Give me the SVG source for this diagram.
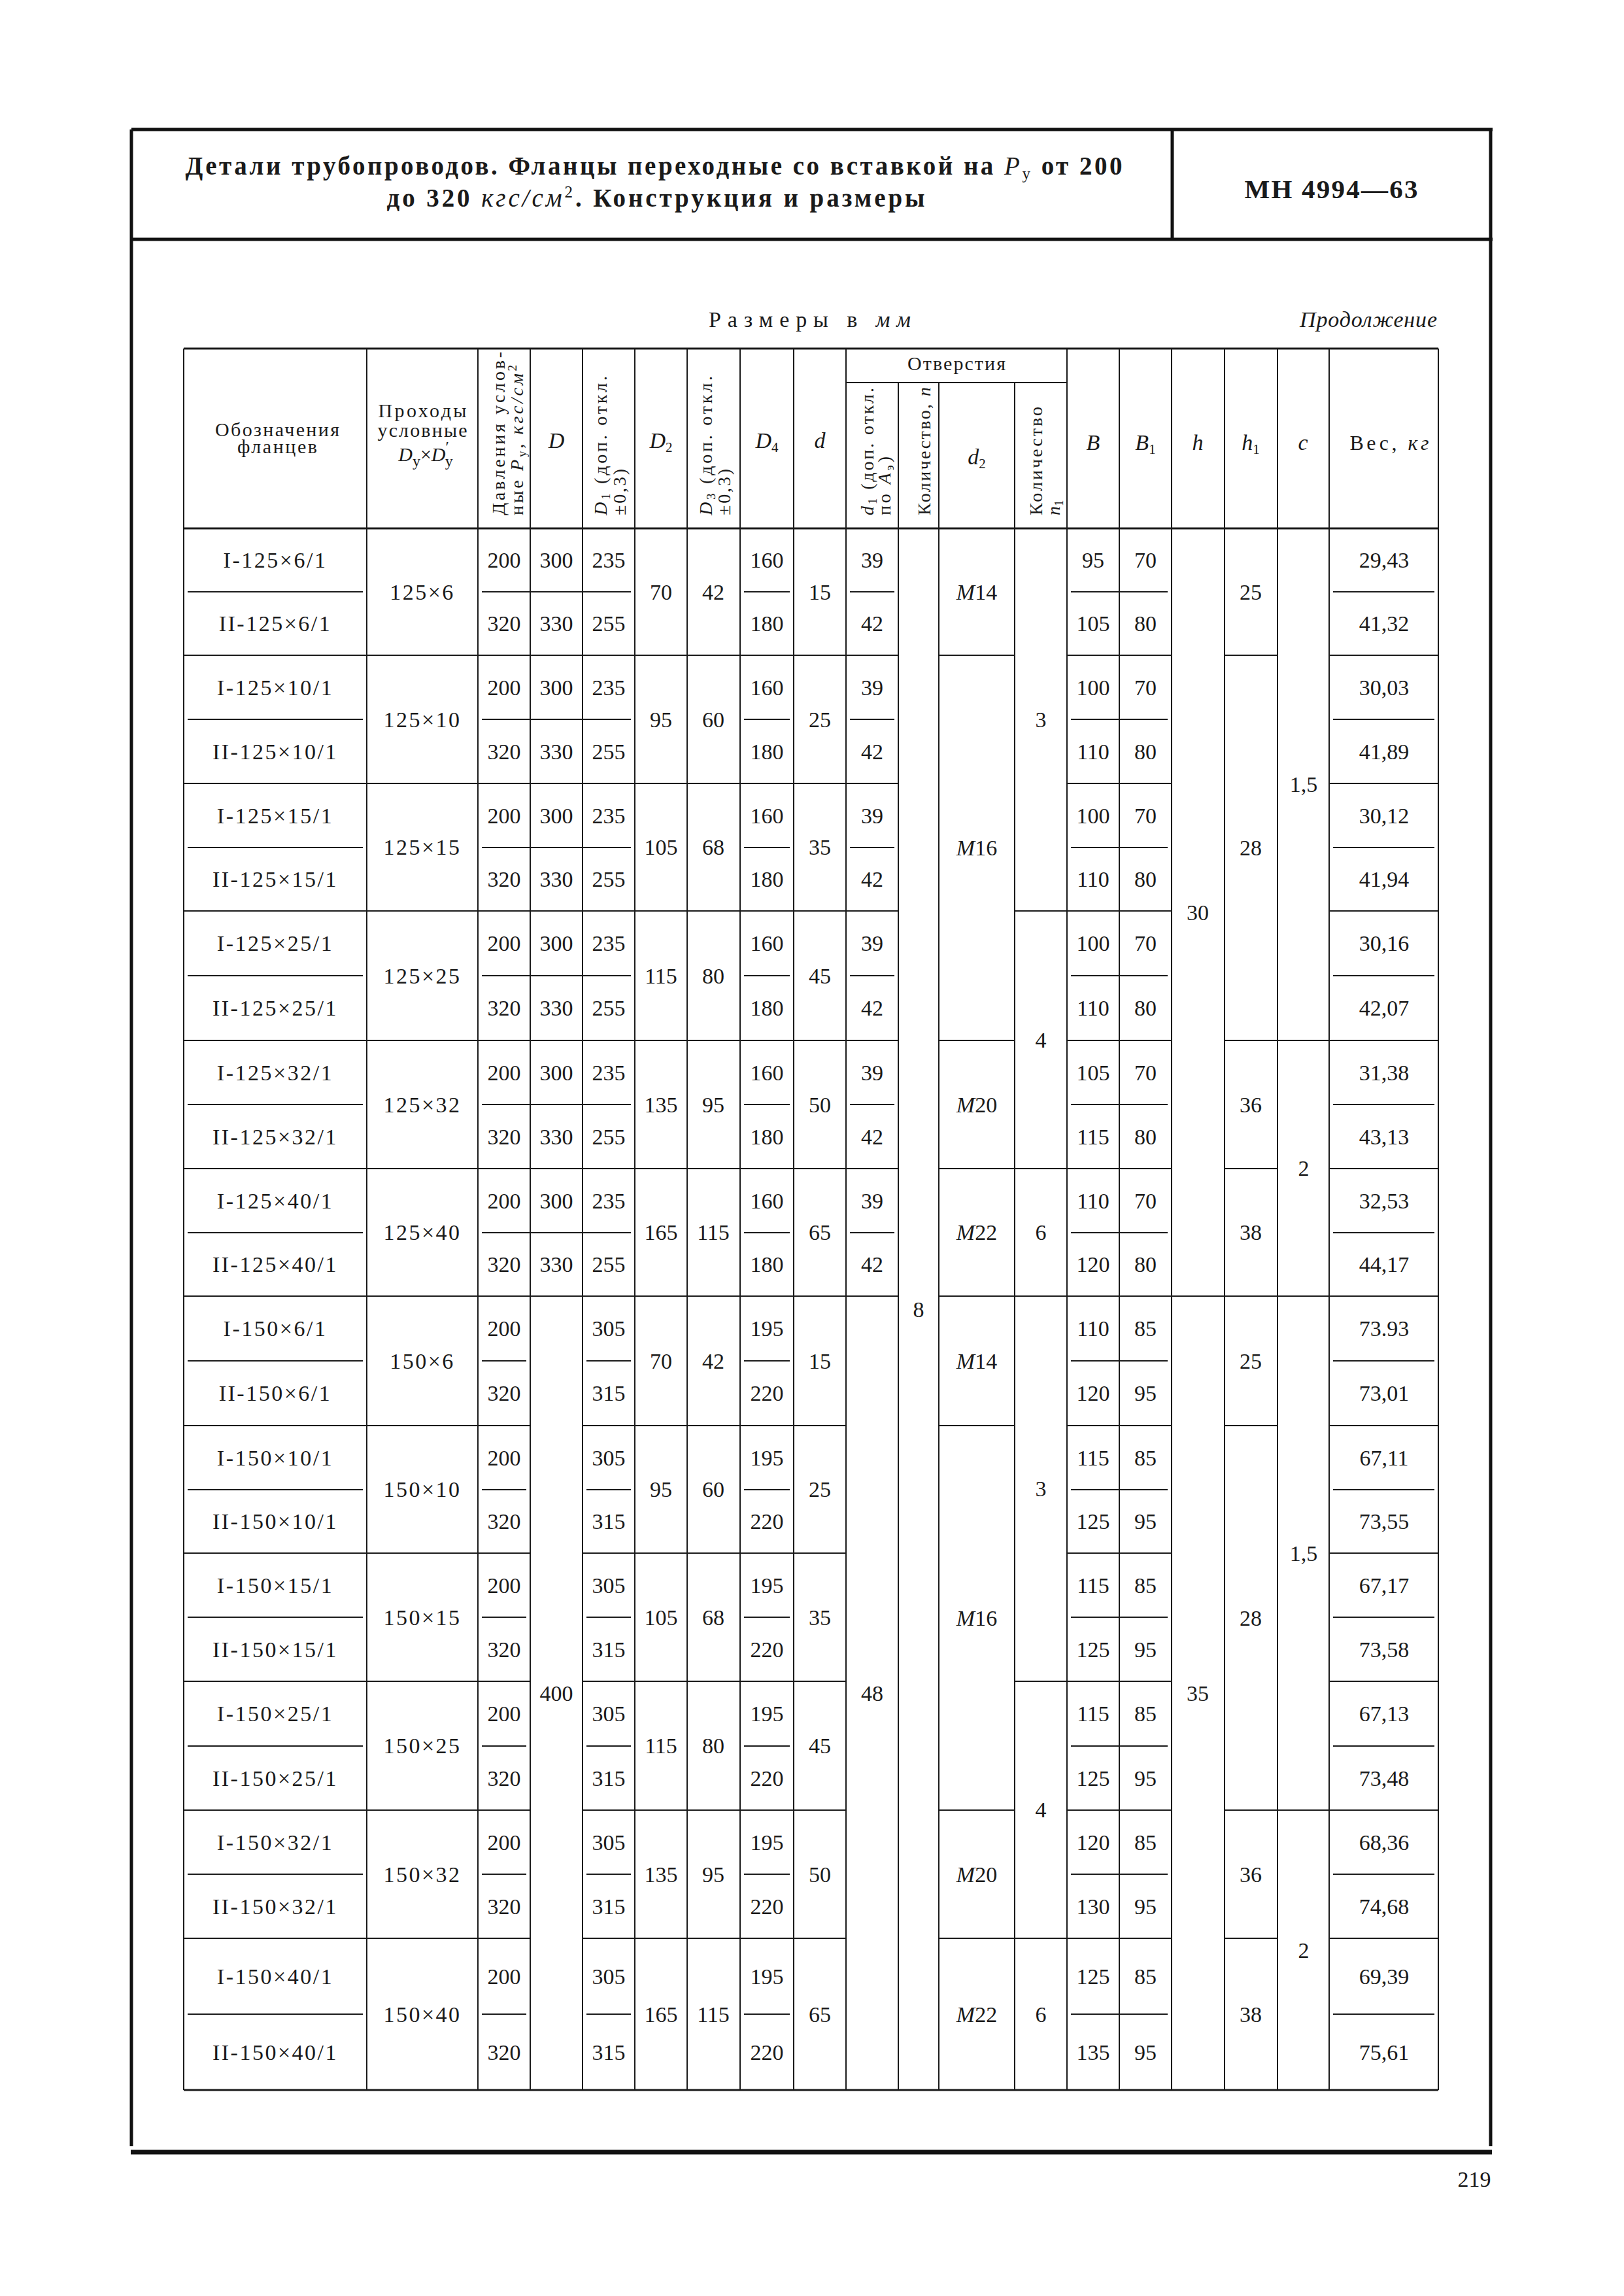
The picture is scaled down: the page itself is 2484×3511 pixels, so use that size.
<svg xmlns="http://www.w3.org/2000/svg" width="2484" height="3511" viewBox="0 0 2484 3511">
<style>
text{font-family:"Liberation Serif","DejaVu Serif",serif;fill:#1a1a1a}
.n{font-size:34px;text-anchor:middle}
.l{font-size:34px;text-anchor:middle;letter-spacing:2.5px}
.h{font-size:30px;text-anchor:middle}
.hl{font-size:34px;text-anchor:middle;font-style:italic}
.r{font-size:28px;text-anchor:start}
.i{font-style:italic}
.ln{stroke:#1a1a1a;stroke-width:2;fill:none}
.tk{stroke:#1a1a1a;stroke-width:3;fill:none}
.fr{stroke:#111;stroke-width:5;fill:none}
</style>
<rect width="2484" height="3511" fill="#fff"/>

<g id="frame">
<path class="fr" d="M201 198H2283 M201 366H2283 M201 198V3282 M2280 198V3282 M1793 198V365"/>
<path stroke="#111" stroke-width="7" fill="none" d="M200 3291H2282"/>
</g>

<g id="title">
<text x="1000" y="267" font-size="39" font-weight="bold" text-anchor="middle" textLength="1433" lengthAdjust="spacing">Детали трубопроводов. Фланцы переходные со вставкой на <tspan font-style="italic" font-weight="normal">P</tspan><tspan font-size="25" font-weight="normal" dy="7">у</tspan><tspan dy="-7"> от 200</tspan></text>
<text x="1003" y="316" font-size="39" font-weight="bold" text-anchor="middle" textLength="823" lengthAdjust="spacing">до 320 <tspan font-style="italic" font-weight="normal">кгс/см</tspan><tspan font-size="25" font-weight="normal" dy="-14">2</tspan><tspan dy="14">. Конструкция и размеры</tspan></text>
<text x="2036" y="303" font-size="41" font-weight="bold" text-anchor="middle" textLength="265" lengthAdjust="spacing">МН 4994—63</text>
</g>

<g id="captions">
<text x="1084" y="500" font-size="34" textLength="309" lengthAdjust="spacing">Размеры в <tspan font-style="italic">мм</tspan></text>
<text x="1988" y="500" font-size="34" font-style="italic" textLength="210" lengthAdjust="spacing">Продолжение</text>
<text x="2255" y="3344" font-size="34" text-anchor="middle">219</text>
</g>

<g id="grid">
<path class="tk" d="M281 533H2200 M281 808H2200 M281 3196H2200"/>
<path class="ln" d="M1294 585H1632"/>
<path class="ln" d="M281 533V3196 M561 533V3196 M731 533V3196 M811 533V3196 M891 533V3196 M971 533V3196 M1051 533V3196 M1132 533V3196 M1214 533V3196 M1294 533V3196 M1632 533V3196 M1712 533V3196 M1792 533V3196 M1873 533V3196 M1954 533V3196 M2033 533V3196 M2200 533V3196 M1374 585V3196 M1436 585V3196 M1552 585V3196"/>
<path class="ln" d="M281 1002H1374 M1436 1002H1552 M1632 1002H1792 M1873 1002H1954 M2033 1002H2200
M281 1198H1374 M1632 1198H1792 M2033 1198H2200
M281 1393H1374 M1552 1393H1792 M2033 1393H2200
M281 1591H1374 M1436 1591H1552 M1632 1591H1792 M1873 1591H2200
M281 1787H1374 M1436 1787H1792 M1873 1787H1954 M2033 1787H2200
M281 1982H1374 M1436 1982H2200
M281 2180H811 M891 2180H1294 M1436 2180H1552 M1632 2180H1792 M1873 2180H1954 M2033 2180H2200
M281 2375H811 M891 2375H1294 M1632 2375H1792 M2033 2375H2200
M281 2571H811 M891 2571H1294 M1552 2571H1792 M2033 2571H2200
M281 2768H811 M891 2768H1294 M1436 2768H1552 M1632 2768H1792 M1873 2768H2200
M281 2964H811 M891 2964H1294 M1436 2964H1792 M1873 2964H1954 M2033 2964H2200"/>
<path class="ln" d="M287 905H555 M737 905H965 M1138 905H1208 M1300 905H1368 M1638 905H1786 M2039 905H2194
M287 1100H555 M737 1100H965 M1138 1100H1208 M1300 1100H1368 M1638 1100H1786 M2039 1100H2194
M287 1296H555 M737 1296H965 M1138 1296H1208 M1300 1296H1368 M1638 1296H1786 M2039 1296H2194
M287 1492H555 M737 1492H965 M1138 1492H1208 M1300 1492H1368 M1638 1492H1786 M2039 1492H2194
M287 1689H555 M737 1689H965 M1138 1689H1208 M1300 1689H1368 M1638 1689H1786 M2039 1689H2194
M287 1885H555 M737 1885H965 M1138 1885H1208 M1300 1885H1368 M1638 1885H1786 M2039 1885H2194
M287 2081H555 M737 2081H805 M897 2081H965 M1138 2081H1208 M1638 2081H1786 M2039 2081H2194
M287 2278H555 M737 2278H805 M897 2278H965 M1138 2278H1208 M1638 2278H1786 M2039 2278H2194
M287 2473H555 M737 2473H805 M897 2473H965 M1138 2473H1208 M1638 2473H1786 M2039 2473H2194
M287 2670H555 M737 2670H805 M897 2670H965 M1138 2670H1208 M1638 2670H1786 M2039 2670H2194
M287 2866H555 M737 2866H805 M897 2866H965 M1138 2866H1208 M1638 2866H1786 M2039 2866H2194
M287 3080H555 M737 3080H805 M897 3080H965 M1138 3080H1208 M1638 3080H1786 M2039 3080H2194"/>
</g>

<g id="table-header">
<text class="h" x="424" y="667" textLength="190" lengthAdjust="spacing">Обозначения</text>
<text class="h" x="424" y="693" textLength="122" lengthAdjust="spacing">фланцев</text>
<text class="h" x="646" y="638" textLength="135" lengthAdjust="spacing">Проходы</text>
<text class="h" x="646" y="668" textLength="137" lengthAdjust="spacing">условные</text>
<text class="h" x="651" y="705" font-size="34"><tspan class="i">D</tspan><tspan font-size="24" dy="8">у</tspan><tspan dy="-8">×</tspan><tspan class="i">D</tspan><tspan font-size="24" dy="-14">′</tspan><tspan font-size="24" dy="22" dx="-6">у</tspan></text>
<text class="r" transform="translate(772,788) rotate(-90)" textLength="250" lengthAdjust="spacing">Давления услов-</text>
<text class="r" transform="translate(800,788) rotate(-90)" textLength="230" lengthAdjust="spacing">ные <tspan class="i">P</tspan><tspan font-size="19" dy="5">у</tspan><tspan dy="-5">, </tspan><tspan class="i">кгс/см</tspan><tspan font-size="19" dy="-10">2</tspan></text>
<text class="hl" x="851" y="685">D</text>
<text class="r" transform="translate(928,788) rotate(-90)" textLength="213" lengthAdjust="spacing"><tspan class="i">D</tspan><tspan font-size="19" dy="5">1</tspan><tspan dy="-5"> (доп. откл.</tspan></text>
<text class="r" transform="translate(957,788) rotate(-90)" textLength="71" lengthAdjust="spacing">±0,3)</text>
<text class="hl" x="1011" y="685">D<tspan font-size="21" font-style="normal" dy="6">2</tspan></text>
<text class="r" transform="translate(1089,788) rotate(-90)" textLength="213" lengthAdjust="spacing"><tspan class="i">D</tspan><tspan font-size="19" dy="5">3</tspan><tspan dy="-5"> (доп. откл.</tspan></text>
<text class="r" transform="translate(1117,788) rotate(-90)" textLength="71" lengthAdjust="spacing">±0,3)</text>
<text class="hl" x="1173" y="685">D<tspan font-size="21" font-style="normal" dy="6">4</tspan></text>
<text class="hl" x="1254" y="685">d</text>
<text class="h" x="1463" y="566" textLength="150" lengthAdjust="spacing">Отверстия</text>
<text class="r" transform="translate(1336,788) rotate(-90)" textLength="195" lengthAdjust="spacing"><tspan class="i">d</tspan><tspan font-size="19" dy="5">1</tspan><tspan dy="-5"> (доп. откл.</tspan></text>
<text class="r" transform="translate(1362,788) rotate(-90)" textLength="90" lengthAdjust="spacing">по <tspan class="i">A</tspan><tspan font-size="19" dy="5">э</tspan><tspan dy="-5">)</tspan></text>
<text class="r" transform="translate(1423,788) rotate(-90)" textLength="196" lengthAdjust="spacing">Количество, <tspan class="i">n</tspan></text>
<text class="hl" x="1494" y="710">d<tspan font-size="21" font-style="normal" dy="6">2</tspan></text>
<text class="r" transform="translate(1594,788) rotate(-90)" textLength="166" lengthAdjust="spacing">Количество</text>
<text class="r" transform="translate(1621,788) rotate(-90)"><tspan class="i">n</tspan><tspan font-size="19" dy="5">1</tspan></text>
<text class="hl" x="1672" y="688">B</text>
<text class="hl" x="1752" y="688">B<tspan font-size="21" font-style="normal" dy="6">1</tspan></text>
<text class="hl" x="1832" y="688">h</text>
<text class="hl" x="1913" y="688">h<tspan font-size="21" font-style="normal" dy="6">1</tspan></text>
<text class="hl" x="1993" y="688">c</text>
<text x="2125" y="688" font-size="32" text-anchor="middle" textLength="121" lengthAdjust="spacing">Вес, <tspan class="i">кг</tspan></text>
</g>

<g id="spans">
<text class="n" x="1405" y="2014">8</text>
<text class="n" x="1832" y="1407">30</text>
<text class="n" x="1832" y="2601">35</text>
<text class="n" x="851" y="2601">400</text>
<text class="n" x="1334" y="2601">48</text>
<text class="n" x="1494" y="917"><tspan class="i">M</tspan>14</text>
<text class="n" x="1494" y="1308"><tspan class="i">M</tspan>16</text>
<text class="n" x="1494" y="1701"><tspan class="i">M</tspan>20</text>
<text class="n" x="1494" y="1896"><tspan class="i">M</tspan>22</text>
<text class="n" x="1494" y="2093"><tspan class="i">M</tspan>14</text>
<text class="n" x="1494" y="2486"><tspan class="i">M</tspan>16</text>
<text class="n" x="1494" y="2878"><tspan class="i">M</tspan>20</text>
<text class="n" x="1494" y="3092"><tspan class="i">M</tspan>22</text>
<text class="n" x="1592" y="1112">3</text>
<text class="n" x="1592" y="1602">4</text>
<text class="n" x="1592" y="1896">6</text>
<text class="n" x="1592" y="2288">3</text>
<text class="n" x="1592" y="2779">4</text>
<text class="n" x="1592" y="3092">6</text>
<text class="n" x="1913" y="917">25</text>
<text class="n" x="1913" y="1308">28</text>
<text class="n" x="1913" y="1701">36</text>
<text class="n" x="1913" y="1896">38</text>
<text class="n" x="1913" y="2093">25</text>
<text class="n" x="1913" y="2486">28</text>
<text class="n" x="1913" y="2878">36</text>
<text class="n" x="1913" y="3092">38</text>
<text class="n" x="1994" y="1211">1,5</text>
<text class="n" x="1994" y="1798">2</text>
<text class="n" x="1994" y="2387">1,5</text>
<text class="n" x="1994" y="2994">2</text>
</g>

<g id="g-125x6">
<text class="l" x="421" y="868">I-125×6/1</text><text class="l" x="421" y="965">II-125×6/1</text><text class="l" x="646" y="917">125×6</text>
<text class="n" x="771" y="868">200</text><text class="n" x="771" y="965">320</text><text class="n" x="851" y="868">300</text><text class="n" x="851" y="965">330</text><text class="n" x="931" y="868">235</text><text class="n" x="931" y="965">255</text>
<text class="n" x="1011" y="917">70</text><text class="n" x="1091" y="917">42</text><text class="n" x="1173" y="868">160</text><text class="n" x="1173" y="965">180</text><text class="n" x="1254" y="917">15</text><text class="n" x="1334" y="868">39</text><text class="n" x="1334" y="965">42</text>
<text class="n" x="1672" y="868">95</text><text class="n" x="1672" y="965">105</text><text class="n" x="1752" y="868">70</text><text class="n" x="1752" y="965">80</text><text class="n" x="2117" y="868">29,43</text><text class="n" x="2117" y="965">41,32</text>
</g>
<g id="g-125x10">
<text class="l" x="421" y="1063">I-125×10/1</text><text class="l" x="421" y="1161">II-125×10/1</text><text class="l" x="646" y="1112">125×10</text>
<text class="n" x="771" y="1063">200</text><text class="n" x="771" y="1161">320</text><text class="n" x="851" y="1063">300</text><text class="n" x="851" y="1161">330</text><text class="n" x="931" y="1063">235</text><text class="n" x="931" y="1161">255</text>
<text class="n" x="1011" y="1112">95</text><text class="n" x="1091" y="1112">60</text><text class="n" x="1173" y="1063">160</text><text class="n" x="1173" y="1161">180</text><text class="n" x="1254" y="1112">25</text><text class="n" x="1334" y="1063">39</text><text class="n" x="1334" y="1161">42</text>
<text class="n" x="1672" y="1063">100</text><text class="n" x="1672" y="1161">110</text><text class="n" x="1752" y="1063">70</text><text class="n" x="1752" y="1161">80</text><text class="n" x="2117" y="1063">30,03</text><text class="n" x="2117" y="1161">41,89</text>
</g>
<g id="g-125x15">
<text class="l" x="421" y="1259">I-125×15/1</text><text class="l" x="421" y="1356">II-125×15/1</text><text class="l" x="646" y="1307">125×15</text>
<text class="n" x="771" y="1259">200</text><text class="n" x="771" y="1356">320</text><text class="n" x="851" y="1259">300</text><text class="n" x="851" y="1356">330</text><text class="n" x="931" y="1259">235</text><text class="n" x="931" y="1356">255</text>
<text class="n" x="1011" y="1307">105</text><text class="n" x="1091" y="1307">68</text><text class="n" x="1173" y="1259">160</text><text class="n" x="1173" y="1356">180</text><text class="n" x="1254" y="1307">35</text><text class="n" x="1334" y="1259">39</text><text class="n" x="1334" y="1356">42</text>
<text class="n" x="1672" y="1259">100</text><text class="n" x="1672" y="1356">110</text><text class="n" x="1752" y="1259">70</text><text class="n" x="1752" y="1356">80</text><text class="n" x="2117" y="1259">30,12</text><text class="n" x="2117" y="1356">41,94</text>
</g>
<g id="g-125x25">
<text class="l" x="421" y="1454">I-125×25/1</text><text class="l" x="421" y="1553">II-125×25/1</text><text class="l" x="646" y="1504">125×25</text>
<text class="n" x="771" y="1454">200</text><text class="n" x="771" y="1553">320</text><text class="n" x="851" y="1454">300</text><text class="n" x="851" y="1553">330</text><text class="n" x="931" y="1454">235</text><text class="n" x="931" y="1553">255</text>
<text class="n" x="1011" y="1504">115</text><text class="n" x="1091" y="1504">80</text><text class="n" x="1173" y="1454">160</text><text class="n" x="1173" y="1553">180</text><text class="n" x="1254" y="1504">45</text><text class="n" x="1334" y="1454">39</text><text class="n" x="1334" y="1553">42</text>
<text class="n" x="1672" y="1454">100</text><text class="n" x="1672" y="1553">110</text><text class="n" x="1752" y="1454">70</text><text class="n" x="1752" y="1553">80</text><text class="n" x="2117" y="1454">30,16</text><text class="n" x="2117" y="1553">42,07</text>
</g>
<g id="g-125x32">
<text class="l" x="421" y="1652">I-125×32/1</text><text class="l" x="421" y="1750">II-125×32/1</text><text class="l" x="646" y="1701">125×32</text>
<text class="n" x="771" y="1652">200</text><text class="n" x="771" y="1750">320</text><text class="n" x="851" y="1652">300</text><text class="n" x="851" y="1750">330</text><text class="n" x="931" y="1652">235</text><text class="n" x="931" y="1750">255</text>
<text class="n" x="1011" y="1701">135</text><text class="n" x="1091" y="1701">95</text><text class="n" x="1173" y="1652">160</text><text class="n" x="1173" y="1750">180</text><text class="n" x="1254" y="1701">50</text><text class="n" x="1334" y="1652">39</text><text class="n" x="1334" y="1750">42</text>
<text class="n" x="1672" y="1652">105</text><text class="n" x="1672" y="1750">115</text><text class="n" x="1752" y="1652">70</text><text class="n" x="1752" y="1750">80</text><text class="n" x="2117" y="1652">31,38</text><text class="n" x="2117" y="1750">43,13</text>
</g>
<g id="g-125x40">
<text class="l" x="421" y="1848">I-125×40/1</text><text class="l" x="421" y="1945">II-125×40/1</text><text class="l" x="646" y="1896">125×40</text>
<text class="n" x="771" y="1848">200</text><text class="n" x="771" y="1945">320</text><text class="n" x="851" y="1848">300</text><text class="n" x="851" y="1945">330</text><text class="n" x="931" y="1848">235</text><text class="n" x="931" y="1945">255</text>
<text class="n" x="1011" y="1896">165</text><text class="n" x="1091" y="1896">115</text><text class="n" x="1173" y="1848">160</text><text class="n" x="1173" y="1945">180</text><text class="n" x="1254" y="1896">65</text><text class="n" x="1334" y="1848">39</text><text class="n" x="1334" y="1945">42</text>
<text class="n" x="1672" y="1848">110</text><text class="n" x="1672" y="1945">120</text><text class="n" x="1752" y="1848">70</text><text class="n" x="1752" y="1945">80</text><text class="n" x="2117" y="1848">32,53</text><text class="n" x="2117" y="1945">44,17</text>
</g>

<g id="g-150x6">
<text class="l" x="421" y="2043">I-150×6/1</text><text class="l" x="421" y="2142">II-150×6/1</text><text class="l" x="646" y="2093">150×6</text>
<text class="n" x="771" y="2043">200</text><text class="n" x="771" y="2142">320</text><text class="n" x="931" y="2043">305</text><text class="n" x="931" y="2142">315</text>
<text class="n" x="1011" y="2093">70</text><text class="n" x="1091" y="2093">42</text><text class="n" x="1173" y="2043">195</text><text class="n" x="1173" y="2142">220</text><text class="n" x="1254" y="2093">15</text>
<text class="n" x="1672" y="2043">110</text><text class="n" x="1672" y="2142">120</text><text class="n" x="1752" y="2043">85</text><text class="n" x="1752" y="2142">95</text><text class="n" x="2117" y="2043">73.93</text><text class="n" x="2117" y="2142">73,01</text>
</g>
<g id="g-150x10">
<text class="l" x="421" y="2241">I-150×10/1</text><text class="l" x="421" y="2338">II-150×10/1</text><text class="l" x="646" y="2289">150×10</text>
<text class="n" x="771" y="2241">200</text><text class="n" x="771" y="2338">320</text><text class="n" x="931" y="2241">305</text><text class="n" x="931" y="2338">315</text>
<text class="n" x="1011" y="2289">95</text><text class="n" x="1091" y="2289">60</text><text class="n" x="1173" y="2241">195</text><text class="n" x="1173" y="2338">220</text><text class="n" x="1254" y="2289">25</text>
<text class="n" x="1672" y="2241">115</text><text class="n" x="1672" y="2338">125</text><text class="n" x="1752" y="2241">85</text><text class="n" x="1752" y="2338">95</text><text class="n" x="2117" y="2241">67,11</text><text class="n" x="2117" y="2338">73,55</text>
</g>
<g id="g-150x15">
<text class="l" x="421" y="2436">I-150×15/1</text><text class="l" x="421" y="2534">II-150×15/1</text><text class="l" x="646" y="2485">150×15</text>
<text class="n" x="771" y="2436">200</text><text class="n" x="771" y="2534">320</text><text class="n" x="931" y="2436">305</text><text class="n" x="931" y="2534">315</text>
<text class="n" x="1011" y="2485">105</text><text class="n" x="1091" y="2485">68</text><text class="n" x="1173" y="2436">195</text><text class="n" x="1173" y="2534">220</text><text class="n" x="1254" y="2485">35</text>
<text class="n" x="1672" y="2436">115</text><text class="n" x="1672" y="2534">125</text><text class="n" x="1752" y="2436">85</text><text class="n" x="1752" y="2534">95</text><text class="n" x="2117" y="2436">67,17</text><text class="n" x="2117" y="2534">73,58</text>
</g>
<g id="g-150x25">
<text class="l" x="421" y="2632">I-150×25/1</text><text class="l" x="421" y="2731">II-150×25/1</text><text class="l" x="646" y="2681">150×25</text>
<text class="n" x="771" y="2632">200</text><text class="n" x="771" y="2731">320</text><text class="n" x="931" y="2632">305</text><text class="n" x="931" y="2731">315</text>
<text class="n" x="1011" y="2681">115</text><text class="n" x="1091" y="2681">80</text><text class="n" x="1173" y="2632">195</text><text class="n" x="1173" y="2731">220</text><text class="n" x="1254" y="2681">45</text>
<text class="n" x="1672" y="2632">115</text><text class="n" x="1672" y="2731">125</text><text class="n" x="1752" y="2632">85</text><text class="n" x="1752" y="2731">95</text><text class="n" x="2117" y="2632">67,13</text><text class="n" x="2117" y="2731">73,48</text>
</g>
<g id="g-150x32">
<text class="l" x="421" y="2829">I-150×32/1</text><text class="l" x="421" y="2927">II-150×32/1</text><text class="l" x="646" y="2878">150×32</text>
<text class="n" x="771" y="2829">200</text><text class="n" x="771" y="2927">320</text><text class="n" x="931" y="2829">305</text><text class="n" x="931" y="2927">315</text>
<text class="n" x="1011" y="2878">135</text><text class="n" x="1091" y="2878">95</text><text class="n" x="1173" y="2829">195</text><text class="n" x="1173" y="2927">220</text><text class="n" x="1254" y="2878">50</text>
<text class="n" x="1672" y="2829">120</text><text class="n" x="1672" y="2927">130</text><text class="n" x="1752" y="2829">85</text><text class="n" x="1752" y="2927">95</text><text class="n" x="2117" y="2829">68,36</text><text class="n" x="2117" y="2927">74,68</text>
</g>
<g id="g-150x40">
<text class="l" x="421" y="3034">I-150×40/1</text><text class="l" x="421" y="3150">II-150×40/1</text><text class="l" x="646" y="3092">150×40</text>
<text class="n" x="771" y="3034">200</text><text class="n" x="771" y="3150">320</text><text class="n" x="931" y="3034">305</text><text class="n" x="931" y="3150">315</text>
<text class="n" x="1011" y="3092">165</text><text class="n" x="1091" y="3092">115</text><text class="n" x="1173" y="3034">195</text><text class="n" x="1173" y="3150">220</text><text class="n" x="1254" y="3092">65</text>
<text class="n" x="1672" y="3034">125</text><text class="n" x="1672" y="3150">135</text><text class="n" x="1752" y="3034">85</text><text class="n" x="1752" y="3150">95</text><text class="n" x="2117" y="3034">69,39</text><text class="n" x="2117" y="3150">75,61</text>
</g>
</svg>
